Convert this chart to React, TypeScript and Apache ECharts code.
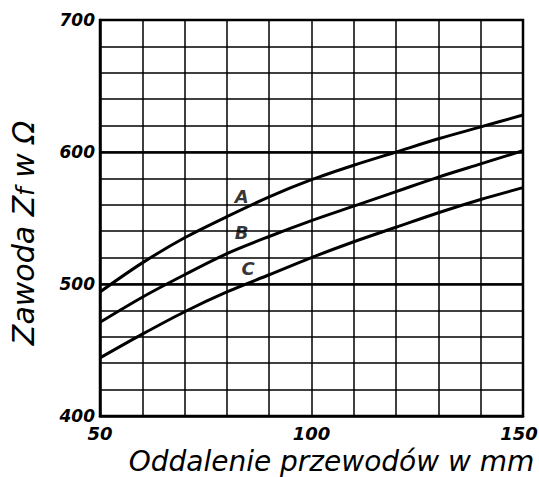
import React, { useEffect, useRef } from "react";
import * as echarts from "echarts";

const xValues = [50, 60, 70, 80, 90, 100, 110, 120, 130, 140, 150];
const curveA = [494, 516, 535, 551, 566, 579, 590, 600, 610, 619, 628];
const curveB = [471, 490, 507, 523, 536, 548, 559, 570, 581, 591, 601];
const curveC = [444, 462, 479, 494, 507, 520, 532, 543, 554, 564, 573];
const curveNames = ["A", "B", "C"];
const labelX = [83.5, 83.5, 85];
const labelY = [566, 539, 512];
const heavyLines = [500, 600];

const FONT = "DejaVu Sans";

export default function App() {
  const ref = useRef<HTMLDivElement>(null);
  useEffect(() => {
    if (!ref.current) return;
    const chart = echarts.init(ref.current, null, { renderer: "svg" });
    const curves = [curveA, curveB, curveC];
    const series: any[] = curves.map((c, i) => ({
      type: "line",
      name: curveNames[i],
      data: xValues.map((x, j) => [x, c[j]]),
      smooth: 0.3,
      symbol: "none",
      lineStyle: { color: "#000", width: 3 },
      z: 5,
      ...(i === 0
        ? {
            markLine: {
              silent: true,
              symbol: "none",
              label: { show: false },
              lineStyle: { color: "#000", width: 2.5, type: "solid" },
              data: heavyLines.map((v) => ({ yAxis: v })),
            },
          }
        : {}),
    }));
    series.push({
      type: "scatter",
      data: curveNames.map((n, i) => ({ value: [labelX[i], labelY[i]], name: n })),
      symbolSize: 0,
      z: 6,
      label: {
        show: true,
        position: "inside",
        formatter: (p: any) => p.name,
        color: "#000",
        fontSize: 18,
        fontStyle: "italic",
        fontWeight: "bold",
        fontFamily: FONT,
      },
    });
    chart.setOption({
      animation: false,
      backgroundColor: "#fff",
      grid: {
        left: 100,
        top: 20,
        right: 16,
        bottom: 61,
        show: true,
        borderColor: "#000",
        borderWidth: 2.5,
        outerBoundsMode: "none",
        containLabel: false,
      },
      xAxis: {
        type: "value",
        min: 50,
        max: 150,
        interval: 10,
        name: "Oddalenie przewodów w mm",
        nameLocation: "middle",
        nameGap: 17,
        nameTextStyle: {
          color: "#000",
          fontSize: 28,
          fontStyle: "italic",
          fontFamily: FONT,
          lineHeight: 30,
          padding: [0, 0, 0, 40],
        },
        axisLine: { show: true, lineStyle: { color: "#000", width: 2.5 } },
        axisTick: { show: false },
        axisLabel: {
          color: "#000",
          fontSize: 18,
          fontStyle: "italic",
          fontWeight: "bold",
          fontFamily: FONT,
          margin: 8,
          formatter: (v: number) =>
            v === 150 ? "{m|150}" : v % 50 === 0 ? String(v) : "",
          rich: {
            m: {
              color: "#000",
              fontSize: 18,
              fontStyle: "italic",
              fontWeight: "bold",
              fontFamily: FONT,
              padding: [0, 8, 0, 0],
            },
          },
        },
        splitLine: { show: true, lineStyle: { color: "#000", width: 1.5 } },
      },
      yAxis: {
        type: "value",
        min: 400,
        max: 700,
        interval: 20,
        name: "Zawoda Z{sub|f} w Ω",
        nameLocation: "middle",
        nameGap: 62,
        nameRotate: 90,
        nameTextStyle: {
          color: "#000",
          fontSize: 30,
          fontStyle: "italic",
          fontFamily: FONT,
          padding: [0, 0, 0, -30],
          rich: {
            sub: {
              fontSize: 24,
              fontStyle: "italic",
              fontFamily: FONT,
              color: "#000",
              verticalAlign: "bottom",
            },
          },
        },
        axisLine: { show: true, lineStyle: { color: "#000", width: 2.5 } },
        axisTick: { show: false },
        axisLabel: {
          color: "#000",
          fontSize: 17,
          fontStyle: "italic",
          fontWeight: "bold",
          fontFamily: FONT,
          margin: 5,
          formatter: (v: number) => (v % 100 === 0 ? String(v) : ""),
        },
        splitLine: { show: true, lineStyle: { color: "#000", width: 1.5 } },
      },
      series,
    });
    return () => chart.dispose();
  }, []);
  return <div ref={ref} style={{ width: 539, height: 477, position: "absolute", left: 0, top: 0 }} />;
}
